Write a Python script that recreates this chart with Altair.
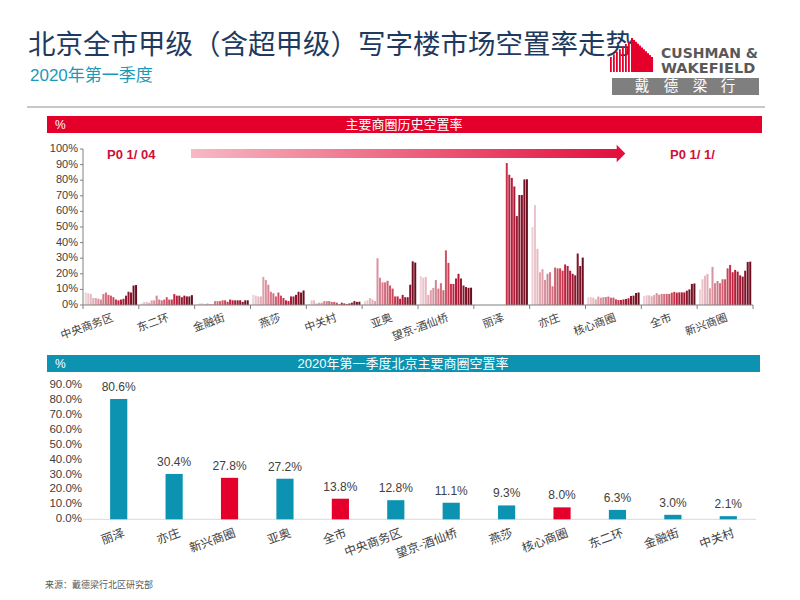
import altair as alt
import pandas as pd

# ---------------- data ----------------
groups = ['中央商务区', '东二环', '金融街', '燕莎', '中关村', '亚奥', '望京-酒仙桥',
          '丽泽', '亦庄', '核心商圈', '全市', '新兴商圈']
quarters = list(range(21))  # 2015Q1 ... 2020Q1

cbd = [8, 7.5, 7, 4.5, 4.5, 4, 3.5, 7, 8, 6.5, 6, 5, 3.5, 3, 3.5, 4, 6, 8.5, 8, 12.5, 12.8]
dongerhuan = [1, 2, 2, 1.5, 3, 3, 6, 3.5, 3, 3.5, 5, 3.5, 3.5, 7, 6, 6, 5, 6, 5.5, 5.5, 6.3]
jinrongjie = [0.5, 1, 1, 0.5, 1, 0.5, 0.5, 2.5, 2.5, 2.5, 3, 3, 2, 3.5, 3, 3, 3, 3, 2, 3, 3.0]
yansha = [6.5, 6, 5.5, 5.5, 18, 16, 13, 8.5, 7.5, 5.5, 8, 6, 4.5, 3, 2.5, 5.5, 5.5, 6.5, 8.5, 8, 9.3]
zhongguancun = [0.5, 3, 3, 1, 1.5, 1.5, 2.5, 2.5, 2.5, 2, 2, 1.5, 0.5, 1.5, 1, 0.5, 1, 1.5, 2.5, 2, 2.1]
yaao = [2.5, 3, 4.5, 3.5, 2.5, 30, 17.5, 14.5, 14.5, 15.5, 12.5, 10.5, 5.5, 5.5, 4, 6.5, 5, 5, 13, 28, 27.2]
wangjing = [18.5, 17.5, 18, 6.5, 9.5, 11, 16, 10.5, 14, 9.5, 35, 27, 13.5, 13.5, 17, 20, 17, 12.5, 11.5, 11, 11.1]
lize = [None] * 12 + [91, 83.5, 81.5, 76, 57, 70.5, 70.5, 80.5, 80.6]
yizhuang = [50, 64, 36, 21, 23, 16, 20, 21, 12, 24, 23.5, 23.5, 22, 26, 25, 22, 20, 19, 33, 25, 30.4]
hexin = [5, 5, 4.7, 3.6, 5.4, 4.7, 5, 5.1, 5.4, 4.7, 4.7, 3.6, 3.2, 3.2, 3.6, 3.9, 4.3, 5.8, 6, 7.7, 8.0]
quanshi = [5.8, 6.2, 6.2, 5.6, 6.4, 7.7, 6.6, 7.1, 7.1, 7.1, 7.1, 7.9, 8.4, 7.9, 8.1, 8.1, 8.1, 9.2, 10, 13.5, 13.8]
xinxing = [10, 16.5, 18.8, 20, 10.7, 24.4, 14, 15.4, 14, 16.5, 16.5, 23.5, 25.7, 21, 22.5, 21.4, 19, 18.2, 22, 27.6, 27.8]
series = [cbd, dongerhuan, jinrongjie, yansha, zhongguancun, yaao, wangjing,
          lize, yizhuang, hexin, quanshi, xinxing]

top_ticks = [0, 10, 20, 30, 40, 50, 60, 70, 80, 90, 100]

bcats = ['丽泽', '亦庄', '新兴商圈', '亚奥', '全市', '中央商务区', '望京-酒仙桥',
         '燕莎', '核心商圈', '东二环', '金融街', '中关村']
bvals = [80.6, 30.4, 27.8, 27.2, 13.8, 12.8, 11.1, 9.3, 8.0, 6.3, 3.0, 2.1]
highlight = ['新兴商圈', '全市', '核心商圈']
bot_ticks = [0, 10, 20, 30, 40, 50, 60, 70, 80, 90]

# ---------------- tables ----------------
rows = []
for g, s in zip(groups, series):
    for q, v in zip(quarters, s):
        if v is not None:
            rows.append({'group': g, 'q': q, 'v': v})
df_top = pd.DataFrame(rows)
df_groups = pd.DataFrame({'group': groups})
df_tt = pd.DataFrame({'v': top_ticks})
df_bot = pd.DataFrame({'cat': bcats, 'v': bvals})
df_bt = pd.DataFrame({'v': bot_ticks})
one = pd.DataFrame({'a': [0]})

FONT = 'Liberation Sans, Noto Sans CJK SC, sans-serif'
CJK = 'Noto Sans CJK SC, sans-serif'
RED = '#e4002b'
TEAL = '#0b93b1'


def V(p):
    return alt.value(p - 8)


def dtext(text, x, y, **kw):
    return alt.Chart(one).mark_text(text=text, **kw).encode(x=V(x), y=V(y))


def drect(x1, x2, y1, y2, color):
    return alt.Chart(one).mark_rect(color=color).encode(x=V(x1), x2=V(x2), y=V(y1), y2=V(y2))


def drule(x1, x2, y1, y2, color, w=1):
    return alt.Chart(one).mark_rule(color=color, strokeWidth=w).encode(
        x=V(x1), x2=V(x2), y=V(y1), y2=V(y2))


layers = []

# ---------------- header ----------------
layers.append(dtext('北京全市甲级（含超甲级）写字楼市场空置率走势', 28, 54, align='left',
                    baseline='alphabetic', fontSize=27.5, color='#1f3a5f', font=CJK))
layers.append(dtext('2020年第一季度', 30, 81, align='left', baseline='alphabetic',
                    fontSize=17, color='#1b9ab7', font=FONT))
# logo icon: striped left part rising to a peak, solid sloped right part
for i in range(7):
    sx = 610 + 3 * i
    top = 57 - i * 2.6
    layers.append(drect(sx, sx + 1.8, top, 72, RED))
for i in range(11):
    sx = 631 + 2 * i
    top = 38 + i * 1.9
    layers.append(drect(sx, sx + 2.05, top, 72, RED))
layers.append(dtext('CUSHMAN &', 661, 58, align='left', baseline='alphabetic',
                    fontSize=14, fontWeight='bold', color='#595959', font='DejaVu Sans'))
layers.append(dtext('WAKEFIELD', 661, 72.5, align='left', baseline='alphabetic',
                    fontSize=14.5, fontWeight='bold', color='#595959', font='DejaVu Sans'))
layers.append(drect(612, 759, 78, 95, '#7f7f7f'))
for ch, cx in zip(['戴', '德', '梁', '行'], [642, 671, 700, 728]):
    layers.append(dtext(ch, cx, 86.5, align='center', baseline='middle', fontSize=14.5,
                        color='white', font=CJK))
layers.append(drule(27, 765, 107, 107, '#c8c8c8', 2))

# red section header
layers.append(drect(47, 762, 116, 133, RED))
layers.append(dtext('%', 55, 124.5, align='left', baseline='middle', fontSize=12,
                    color='white', font=FONT))
layers.append(dtext('主要商圈历史空置率', 404, 124.5, align='center', baseline='middle',
                    fontSize=13, color='white', font=CJK))

# arrow
grad = alt.Gradient(gradient='linear', x1=0, x2=1, y1=0, y2=0,
                    stops=[alt.GradientStop(color='#f7b8c4', offset=0),
                           alt.GradientStop(color='#e3103d', offset=1)])
layers.append(alt.Chart(one).mark_rect(color=grad).encode(
    x=V(191), x2=V(618), y=V(149), y2=V(158)))
layers.append(alt.Chart(one).mark_point(shape='M -0.5 -1 L 0.5 0 L -0.5 1 Z', filled=True,
                                        size=300, color='#e3103d', opacity=1).encode(
    x=V(621), y=V(153.5)))
layers.append(dtext('P0 1/ 04', 107, 155, align='left', baseline='middle', fontSize=13,
                    fontWeight='bold', color='#d0103a', font=FONT))
layers.append(dtext('P0 1/ 1/', 670, 155, align='left', baseline='middle', fontSize=13,
                    fontWeight='bold', color='#d0103a', font=FONT))

# ---------------- top chart ----------------
topX = alt.Scale(domain=groups, range=[83 - 8, 753 - 8], paddingInner=0, paddingOuter=0)
topY = alt.Scale(domain=[0, 100], range=[305 - 8, 149 - 8])
AX = '#808080'

layers.append(alt.Chart(df_top).mark_bar().encode(
    x=alt.X('group:N', scale=topX, axis=None),
    xOffset=alt.XOffset('q:O', scale=alt.Scale(paddingInner=0.2, paddingOuter=0.7)),
    y=alt.Y('v:Q', scale=topY, axis=None),
    color=alt.Color('q:Q', legend=None,
                    scale=alt.Scale(domain=[0, 6, 13, 20],
                                    range=['#ecd2d6', '#d68594', '#c2203f', '#6a0d1f']))))
layers.append(drule(83, 83, 149, 305, AX))
layers.append(drule(83, 753, 305, 305, AX))
layers.append(alt.Chart(df_tt).mark_rule(color=AX).encode(
    y=alt.Y('v:Q', scale=topY, axis=None), x=V(80), x2=V(83)))
layers.append(alt.Chart(df_tt).transform_calculate(lab="datum.v + '%'").mark_text(
    align='right', baseline='middle', fontSize=11, color='#404040', font=FONT).encode(
    y=alt.Y('v:Q', scale=topY, axis=None), x=V(78), text='lab:N'))
layers.append(alt.Chart(df_groups).mark_rule(color=AX).encode(
    x=alt.X('group:N', scale=topX, axis=None, bandPosition=0), y=V(305), y2=V(309)))
layers.append(drule(753, 753, 305, 309, AX))
layers.append(alt.Chart(df_groups).mark_text(
    angle=340, align='right', baseline='top', fontSize=11, color='#404040', font=CJK).encode(
    x=alt.X('group:N', scale=topX, axis=None, bandPosition=0.5), y=V(312), text='group:N'))

# teal section header
layers.append(drect(47, 760, 355, 372, TEAL))
layers.append(dtext('%', 55, 363.5, align='left', baseline='middle', fontSize=12,
                    color='white', font=FONT))
layers.append(dtext('2020年第一季度北京主要商圈空置率', 403, 363.5, align='center',
                    baseline='middle', fontSize=13, color='white', font=FONT))

# ---------------- bottom chart ----------------
botX = alt.Scale(domain=bcats, range=[91 - 8, 756 - 8], paddingInner=0.69, paddingOuter=0.345)
botY = alt.Scale(domain=[0, 90], range=[519.3 - 8, 385 - 8])

layers.append(drule(83, 756, 519.3, 519.3, '#d9d9d9'))
layers.append(alt.Chart(df_bot).mark_bar().encode(
    x=alt.X('cat:N', scale=botX, axis=None),
    y=alt.Y('v:Q', scale=botY, axis=None),
    color=alt.condition(alt.FieldOneOfPredicate(field='cat', oneOf=highlight),
                        alt.value(RED), alt.value(TEAL))))
layers.append(alt.Chart(df_bot).transform_calculate(
    lab="format(datum.v, '.1f') + '%'").mark_text(
    baseline='bottom', dy=-5, fontSize=12, color='#404040', font=FONT).encode(
    x=alt.X('cat:N', scale=botX, axis=None, bandPosition=0.5),
    y=alt.Y('v:Q', scale=botY, axis=None), text='lab:N'))
layers.append(alt.Chart(df_bt).transform_calculate(
    lab="format(datum.v, '.1f') + '%'").mark_text(
    align='right', baseline='middle', fontSize=11.5, color='#404040', font=FONT).encode(
    y=alt.Y('v:Q', scale=botY, axis=None), x=V(82), text='lab:N'))
layers.append(alt.Chart(df_bot).mark_text(
    angle=340, align='right', baseline='top', fontSize=12, dx=4, color='#404040',
    font=CJK).encode(
    x=alt.X('cat:N', scale=botX, axis=None, bandPosition=0.5), y=V(529), text='cat:N'))

# source
layers.append(dtext('来源：戴德梁行北区研究部', 45, 585, align='left', baseline='middle',
                    fontSize=9, color='#595959', font=CJK))

chart = alt.layer(*layers).resolve_scale(
    x='independent', y='independent', color='independent'
).properties(
    width=784, height=584, padding=0,
    autosize=alt.AutoSizeParams(type='none'),
    background='white'
).configure_view(strokeWidth=0)

chart.save('out.html', embed_options={'renderer': 'svg', 'actions': False})
